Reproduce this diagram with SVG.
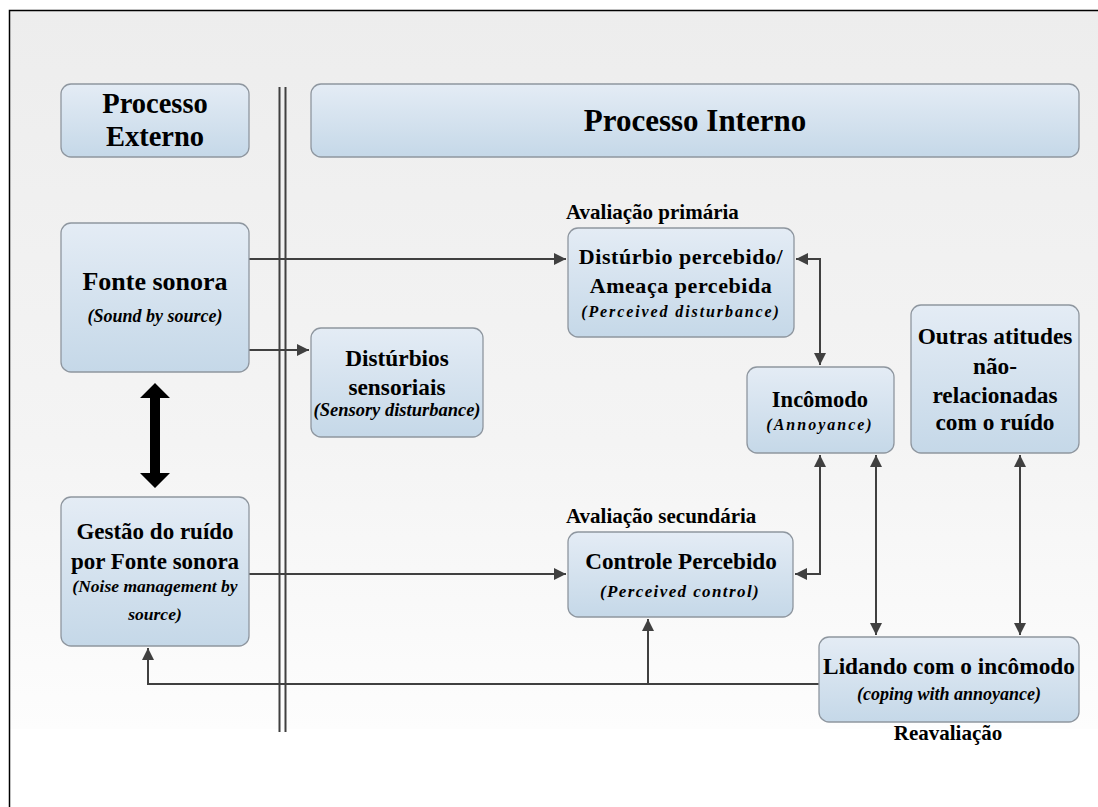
<svg xmlns="http://www.w3.org/2000/svg" width="1098" height="807" viewBox="0 0 1098 807">
<defs>
<linearGradient id="bg" x1="0" y1="0" x2="0" y2="1">
<stop offset="0" stop-color="#ededed"/>
<stop offset="0.6" stop-color="#f4f4f4"/>
<stop offset="1" stop-color="#fdfdfd"/>
</linearGradient>
<linearGradient id="box" x1="0" y1="0" x2="0" y2="1">
<stop offset="0" stop-color="#e4ecf5"/>
<stop offset="1" stop-color="#c5d8e8"/>
</linearGradient>
<marker id="ah" viewBox="0 0 10 10" refX="10" refY="5" markerWidth="12" markerHeight="12" markerUnits="userSpaceOnUse" orient="auto-start-reverse">
<path d="M0,0 L10,5 L0,10 z" fill="#404040"/>
</marker>
</defs>
<style>
.b{fill:url(#box);stroke:#8e969f;stroke-width:1.3}
.t{font-family:"Liberation Serif","Times New Roman",serif;font-weight:bold;fill:#000;text-anchor:middle}
.i{font-family:"Liberation Serif","Times New Roman",serif;font-weight:bold;font-style:italic;fill:#000;text-anchor:middle}
.c{fill:none;stroke:#404040;stroke-width:2}
.l{font-family:"Liberation Serif","Times New Roman",serif;font-weight:bold;fill:#000;font-size:21px}
</style>
<rect x="0" y="0" width="1098" height="807" fill="#fff"/>
<rect x="10" y="11" width="1088" height="718" fill="url(#bg)"/>
<path d="M9.5,807 V10.5 H1098" fill="none" stroke="#000" stroke-width="1.5"/>
<g id="divider">
<line x1="279.5" y1="87" x2="279.5" y2="732" stroke="#404040" stroke-width="2"/>
<line x1="285.5" y1="87" x2="285.5" y2="732" stroke="#404040" stroke-width="2"/>
</g>
<g id="connectors">
<path class="c" d="M249,259 H566" marker-end="url(#ah)"/>
<path class="c" d="M249,350 H309" marker-end="url(#ah)"/>
<path class="c" d="M249,574 H566" marker-end="url(#ah)"/>
<path class="c" d="M796,259 H820 V365" marker-start="url(#ah)" marker-end="url(#ah)"/>
<path class="c" d="M820,455 V574 H795" marker-start="url(#ah)" marker-end="url(#ah)"/>
<path class="c" d="M876,455 V635" marker-start="url(#ah)" marker-end="url(#ah)"/>
<path class="c" d="M1020,455 V635" marker-start="url(#ah)" marker-end="url(#ah)"/>
<path class="c" d="M819,684 H148 V648" marker-end="url(#ah)"/>
<path class="c" d="M648,684 V619" marker-end="url(#ah)"/>
<path d="M155,383 L170,398 H160 V473 H170 L155,488 L140,473 H150 V398 H140 Z" fill="#000"/>
</g>
<g id="processo-externo">
<rect class="b" x="61" y="84" width="188" height="73" rx="10"/>
<text class="t" x="155" y="113" font-size="28.5">Processo</text>
<text class="t" x="155" y="146" font-size="28.5">Externo</text>
</g>
<g id="processo-interno">
<rect class="b" x="311" y="84" width="768" height="73" rx="10"/>
<text class="t" x="695" y="131" font-size="31">Processo Interno</text>
</g>
<g id="fonte-sonora">
<rect class="b" x="61" y="223" width="188" height="149" rx="10"/>
<text class="t" x="155" y="290" font-size="26">Fonte sonora</text>
<text class="i" x="155" y="322" font-size="18">(Sound by source)</text>
</g>
<g id="disturbios-sensoriais">
<rect class="b" x="311" y="328" width="172" height="109" rx="10"/>
<text class="t" x="397" y="366" font-size="23.3">Distúrbios</text>
<text class="t" x="397" y="395" font-size="23.3">sensoriais</text>
<text class="i" x="397" y="416" font-size="18.5">(Sensory disturbance)</text>
</g>
<g id="disturbio-percebido">
<text class="l" x="566" y="219">Avaliação primária</text>
<rect class="b" x="568" y="228" width="226" height="109" rx="10"/>
<text class="t" x="681" y="264" font-size="22" letter-spacing="0.55">Distúrbio percebido/</text>
<text class="t" x="681" y="293" font-size="22" letter-spacing="0.55">Ameaça percebida</text>
<text class="i" x="681" y="317" font-size="16" letter-spacing="1.9">(Perceived disturbance)</text>
</g>
<g id="incomodo">
<rect class="b" x="747" y="367" width="147" height="86" rx="10"/>
<text class="t" x="820" y="407" font-size="22.5">Incômodo</text>
<text class="i" x="820" y="430" font-size="16" letter-spacing="2">(Annoyance)</text>
</g>
<g id="outras-atitudes">
<rect class="b" x="911" y="305" width="168" height="148" rx="10"/>
<text class="t" x="995" y="344" font-size="23.3">Outras atitudes</text>
<text class="t" x="995" y="374" font-size="23.3">não-</text>
<text class="t" x="995" y="403" font-size="23.3">relacionadas</text>
<text class="t" x="995" y="430" font-size="23.3">com o ruído</text>
</g>
<g id="gestao-ruido">
<rect class="b" x="61" y="497" width="188" height="149" rx="10"/>
<text class="t" x="155" y="539" font-size="23">Gestão do ruído</text>
<text class="t" x="155" y="569" font-size="23">por Fonte sonora</text>
<text class="i" x="155" y="592" font-size="17.5">(Noise management by</text>
<text class="i" x="155" y="620" font-size="17.5">source)</text>
</g>
<g id="controle-percebido">
<text class="l" x="566" y="523">Avaliação secundária</text>
<rect class="b" x="568" y="532" width="225" height="85" rx="10"/>
<text class="t" x="681" y="569" font-size="23.2">Controle Percebido</text>
<text class="i" x="680" y="597" font-size="17" letter-spacing="1.4">(Perceived control)</text>
</g>
<g id="lidando">
<rect class="b" x="819" y="637" width="260" height="85" rx="10"/>
<text class="t" x="949" y="674" font-size="23.3">Lidando com o incômodo</text>
<text class="i" x="949" y="700" font-size="18">(coping with annoyance)</text>
<text class="l" x="948" y="740" text-anchor="middle">Reavaliação</text>
</g>
</svg>
